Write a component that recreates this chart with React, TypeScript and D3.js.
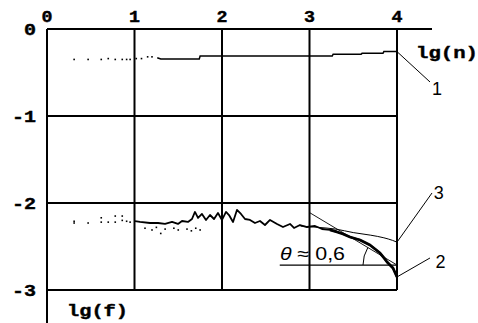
import React from "react";
import * as d3 from "d3";

// ---- data (lg f, lg value) ----
const xTicks = [0, 1, 2, 3, 4];
const yTicks = [0, -1, -2, -3];
const yTickLabels = ["0", "-1", "-2", "-3"];

// curve 1: dotted start, then stepped line
const curve1Dots: [number, number][] = [
  [0.31, -0.35], [0.47, -0.35], [0.62, -0.35], [0.7, -0.34], [0.78, -0.35],
  [0.86, -0.35], [0.91, -0.35], [0.95, -0.35], [1.02, -0.34], [1.08, -0.34],
  [1.15, -0.32], [1.2, -0.32],
];
const curve1Line: [number, number][] = [
  [1.26, -0.33], [1.3, -0.345], [1.74, -0.345], [1.75, -0.31], [3.26, -0.31],
  [3.27, -0.29], [3.59, -0.29], [3.6, -0.28], [3.84, -0.28], [3.85, -0.26], [4.0, -0.26],
];

// curve 2: dotted start + scatter, then noisy line
const curve2Dots: [number, number][] = [
  [0.31, -2.21], [0.31, -2.23], [0.47, -2.23], [0.62, -2.17], [0.62, -2.22],
  [0.7, -2.22], [0.78, -2.15], [0.78, -2.22], [0.86, -2.15], [0.86, -2.2],
  [0.91, -2.21], [0.95, -2.22],
  [1.12, -2.29], [1.2, -2.31], [1.25, -2.28], [1.3, -2.35], [1.35, -2.3],
  [1.45, -2.29], [1.5, -2.31], [1.6, -2.3], [1.65, -2.32], [1.7, -2.29], [1.75, -2.31],
];
const curve2Line: [number, number][] = [
  [1.006, -2.207], [1.063, -2.218], [1.177, -2.23], [1.269, -2.23], [1.349, -2.241],
  [1.429, -2.218], [1.497, -2.241], [1.543, -2.207], [1.611, -2.218], [1.657, -2.184],
  [1.691, -2.103], [1.726, -2.172], [1.771, -2.126], [1.817, -2.195], [1.863, -2.138],
  [1.909, -2.184], [1.954, -2.115], [2.0, -2.195], [2.046, -2.103], [2.08, -2.138],
  [2.126, -2.218], [2.171, -2.08], [2.217, -2.126], [2.263, -2.184], [2.32, -2.195],
  [2.377, -2.23], [2.434, -2.207], [2.491, -2.253], [2.549, -2.195], [2.629, -2.241],
  [2.697, -2.276], [2.777, -2.241], [2.823, -2.287], [2.891, -2.253], [2.971, -2.276],
  [3.063, -2.264], [3.143, -2.299], [3.234, -2.31], [3.314, -2.333], [3.383, -2.356],
  [3.463, -2.391], [3.577, -2.425], [3.691, -2.483], [3.749, -2.529], [3.806, -2.575],
  [3.851, -2.632], [3.886, -2.678], [3.92, -2.713], [3.954, -2.747], [4.0, -2.851],
];

// curve 3: smooth model curve
const curve3: [number, number][] = [
  [2.9, -2.265], [3.1, -2.28], [3.3, -2.3], [3.5, -2.34], [3.7, -2.37],
  [3.85, -2.4], [3.95, -2.43], [4.0, -2.45],
];

// tangent & angle annotation
const tangent: [number, number][] = [[3.0, -2.11], [4.0, -2.713]];
const baseLine: [number, number][] = [[2.66, -2.713], [4.0, -2.713]];

// leader lines: [from, to]
const leaders: [[number, number], [number, number]][] = [
  [[4.0, -0.26], [4.377, -0.609]],
  [[4.0, -2.45], [4.4, -1.885]],
  [[4.0, -2.85], [4.377, -2.632]],
];
const curveLabels: { t: string; at: [number, number] }[] = [
  { t: "1", at: [4.4, -0.76] },
  { t: "3", at: [4.42, -1.95] },
  { t: "2", at: [4.44, -2.747] },
];

export default function App() {
  const W = 478, H = 323;
  const x = d3.scaleLinear().domain([0, 4]).range([47, 397]);
  const y = d3.scaleLinear().domain([0, -3]).range([29, 290]);
  const line = d3.line<[number, number]>().x(d => x(d[0])).y(d => y(d[1]));
  const smooth = d3.line<[number, number]>().x(d => x(d[0])).y(d => y(d[1])).curve(d3.curveMonotoneX);

  const mono = "'Liberation Mono', 'DejaVu Sans Mono', monospace";
  const sans = "'Liberation Sans', Arial, sans-serif";

  // arc for theta
  const cx = x(4), cy = y(-2.713), r = 34;
  const a0 = Math.PI, a1 = Math.PI - Math.atan(0.6);
  const arcPath = `M${cx + r * Math.cos(a0)},${cy - r * Math.sin(a0)} A${r},${r} 0 0 1 ${cx + r * Math.cos(a1)},${cy - r * Math.sin(a1)}`;

  const tail = curve2Line.filter(d => d[0] >= 3.2);

  return (
    <svg width={W} height={H} style={{ position: "fixed", left: 0, top: 0, background: "#fff" }}>
      <rect width={W} height={H} fill="#fff" />
      {/* axes */}
      <line x1={x(0)} x2={432} y1={y(0)} y2={y(0)} stroke="#000" strokeWidth={2} />
      <line x1={x(0)} x2={x(0)} y1={y(0)} y2={H} stroke="#000" strokeWidth={2} />
      {/* grid */}
      {xTicks.slice(1).map(t => (
        <line key={"vx" + t} x1={x(t)} x2={x(t)} y1={y(0)} y2={y(-3)} stroke="#000" strokeWidth={2} />
      ))}
      {yTicks.slice(1).map(t => (
        <line key={"hy" + t} x1={x(0)} x2={x(4)} y1={y(t)} y2={y(t)} stroke="#000" strokeWidth={2} />
      ))}
      {/* tick labels */}
      {xTicks.map(t => (
        <text key={"tx" + t} x={x(t)} y={22} textAnchor="middle" fontFamily={mono} fontWeight="bold" fontSize={16}
          textLength={11} lengthAdjust="spacingAndGlyphs" stroke="#000" strokeWidth={0.4}>{t}</text>
      ))}
      {yTicks.map((t, i) => (
        <text key={"ty" + t} x={36} y={y(t) + 6} textAnchor="end" fontFamily={mono} fontWeight="bold" fontSize={16}
          textLength={yTickLabels[i].length > 1 ? 24 : 12} lengthAdjust="spacingAndGlyphs" stroke="#000" strokeWidth={0.4}>{yTickLabels[i]}</text>
      ))}
      <text x={416} y={58} fontFamily={mono} fontWeight="bold" fontSize={16} textLength={62} lengthAdjust="spacingAndGlyphs" stroke="#000" strokeWidth={0.4}>lg(n)</text>
      <text x={67} y={316} fontFamily={mono} fontWeight="bold" fontSize={16} textLength={61} lengthAdjust="spacingAndGlyphs" stroke="#000" strokeWidth={0.4}>lg(f)</text>

      {/* curve 1 */}
      {curve1Dots.map((d, i) => (
        <rect key={"d1" + i} x={x(d[0]) - 0.8} y={y(d[1]) - 0.8} width={1.6} height={1.6} fill="#000" />
      ))}
      <path d={line(curve1Line) || ""} fill="none" stroke="#000" strokeWidth={1.5} />

      {/* curve 2 */}
      {curve2Dots.map((d, i) => (
        <rect key={"d2" + i} x={x(d[0]) - 0.8} y={y(d[1]) - 0.8} width={1.6} height={1.6} fill="#000" />
      ))}
      <path d={line(curve2Line) || ""} fill="none" stroke="#000" strokeWidth={1.8} strokeLinejoin="round" />
      <path d={line(tail) || ""} fill="none" stroke="#000" strokeWidth={2.8} strokeLinejoin="round" />

      {/* curve 3 */}
      <path d={smooth(curve3) || ""} fill="none" stroke="#000" strokeWidth={1} />

      {/* tangent + baseline + arc */}
      <path d={line(tangent) || ""} fill="none" stroke="#000" strokeWidth={0.9} />
      <path d={line(baseLine) || ""} fill="none" stroke="#000" strokeWidth={1.2} />
      <path d={arcPath} fill="none" stroke="#000" strokeWidth={1} />
      <text x={280} y={260} fontFamily={sans} fontSize={18} textLength={65} lengthAdjust="spacingAndGlyphs">
        <tspan fontStyle="italic">θ</tspan> ≈ 0,6
      </text>

      {/* leaders */}
      {leaders.map((l, i) => (
        <line key={"ld" + i} x1={x(l[0][0])} y1={y(l[0][1])} x2={x(l[1][0])} y2={y(l[1][1])} stroke="#000" strokeWidth={1} />
      ))}
      {curveLabels.map((c, i) => (
        <text key={"cl" + i} x={x(c.at[0])} y={y(c.at[1])} fontFamily={sans} fontSize={18}>{c.t}</text>
      ))}
    </svg>
  );
}
